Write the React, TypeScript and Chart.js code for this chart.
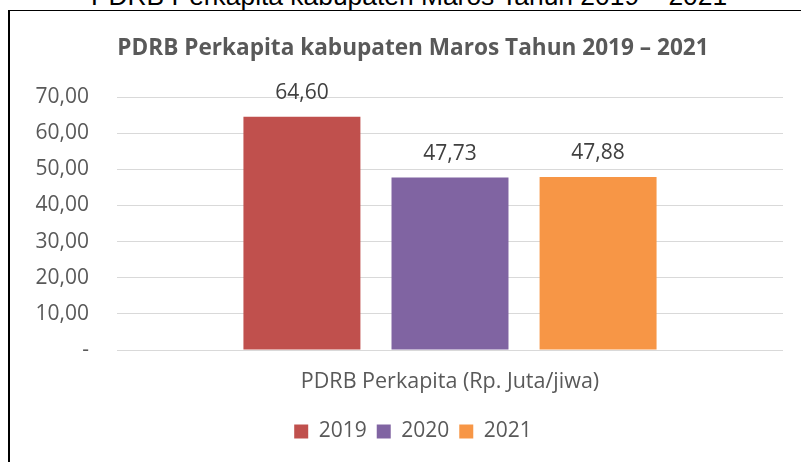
import React, { useEffect, useRef } from "react";
import { Chart, registerables } from "chart.js";

Chart.register(...registerables);

const pageTitle = "PDRB Perkapita kabupaten Maros Tahun 2019 – 2021";
const chartTitle = "PDRB Perkapita kabupaten Maros Tahun 2019 – 2021";
const categories = ["PDRB Perkapita (Rp. Juta/jiwa)"];
const years = ["2019", "2020", "2021"];
const values = [64.6, 47.73, 47.88];
const barColors = ["#C0504D", "#8064A2", "#F79646"];
const yTicks = [0, 10, 20, 30, 40, 50, 60, 70];

const FONT = "'Open Sans', sans-serif";

const fmt = (v: number) =>
  v === 0 ? "-" : v.toFixed(2).replace(".", ",");

const dataLabels = {
  id: "dataLabels",
  afterDatasetsDraw(chart: any) {
    const ctx = chart.ctx;
    ctx.save();
    ctx.font = `21px ${FONT}`;
    ctx.fillStyle = "#404040";
    ctx.textAlign = "center";
    ctx.textBaseline = "alphabetic";
    chart.data.datasets.forEach((ds: any, i: number) => {
      const meta = chart.getDatasetMeta(i);
      meta.data.forEach((bar: any, j: number) => {
        const v = ds.data[j] as number;
        ctx.fillText(fmt(v), bar.x, bar.y - 18);
      });
    });
    ctx.restore();
  },
};

export default function App() {
  const ref = useRef<HTMLCanvasElement>(null);
  useEffect(() => {
    if (!ref.current) return;
    const chart = new Chart(ref.current, {
      type: "bar",
      data: {
        labels: categories,
        datasets: years.map((y, i) => ({
          label: y,
          data: [values[i]],
          backgroundColor: barColors[i],
          borderWidth: 0,
          categoryPercentage: 0.667,
          barPercentage: 0.79,
        })),
      },
      options: {
        responsive: false,
        animation: false,
        devicePixelRatio: 1,
        layout: { padding: { left: 0, right: 14, top: 0, bottom: 10 } },
        plugins: {
          title: {
            display: true,
            text: chartTitle,
            color: "#595959",
            font: { family: FONT, size: 22.6, weight: "bold" },
            padding: { top: 35.5, bottom: 34.5 },
          },
          legend: {
            position: "bottom",
            labels: {
              boxWidth: 14,
              boxHeight: 14,
              padding: 10,
              color: "#595959",
              font: { family: FONT, size: 21 },
            },
          },
          tooltip: { enabled: false },
        },
        scales: {
          x: {
            grid: { display: false, drawTicks: false },
            border: { display: false },
            ticks: {
              color: "#595959",
              font: { family: FONT, size: 21.5 },
              padding: 19,
            },
            afterFit: (s: any) => {
              s.height = 61;
            },
          },
          y: {
            min: 0,
            max: 70,
            afterBuildTicks: (s: any) => {
              s.ticks = yTicks.map((v) => ({ value: v }));
            },
            ticks: {
              color: "#595959",
              font: { family: FONT, size: 21 },
              padding: 28,
              callback: (v: any) => fmt(Number(v)),
            },
            grid: { color: "#D9D9D9", lineWidth: 1, drawTicks: false },
            border: { display: false },
            afterFit: (s: any) => {
              s.width = 117;
            },
          },
          yPad: {
            type: "linear",
            position: "right",
            display: true,
            grid: { display: false, drawTicks: false },
            border: { display: false },
            ticks: { display: false },
            afterFit: (s: any) => {
              s.width = 43;
            },
          },
        },
      },
      plugins: [dataLabels],
    });
    return () => chart.destroy();
  }, []);

  return (
    <div
      style={{
        position: "fixed",
        left: 0,
        top: 0,
        width: 801,
        height: 462,
        overflow: "hidden",
        background: "#fff",
      }}
    >
      <div
        style={{
          position: "absolute",
          left: 0,
          top: -17.1,
          width: 818,
          textAlign: "center",
          fontFamily: "'Liberation Sans', Arial, sans-serif",
          fontSize: 26.4,
          lineHeight: "26px",
          color: "#000",
          whiteSpace: "nowrap",
        }}
      >
        {pageTitle}
      </div>
      <div
        style={{
          position: "absolute",
          left: 8,
          top: 10,
          width: 900,
          height: 600,
          borderLeft: "2px solid #000",
          borderTop: "1px solid #000",
        }}
      />
      <canvas
        ref={ref}
        width={840}
        height={462}
        style={{ position: "absolute", left: 0, top: 0, width: 840, height: 462 }}
      />
    </div>
  );
}
